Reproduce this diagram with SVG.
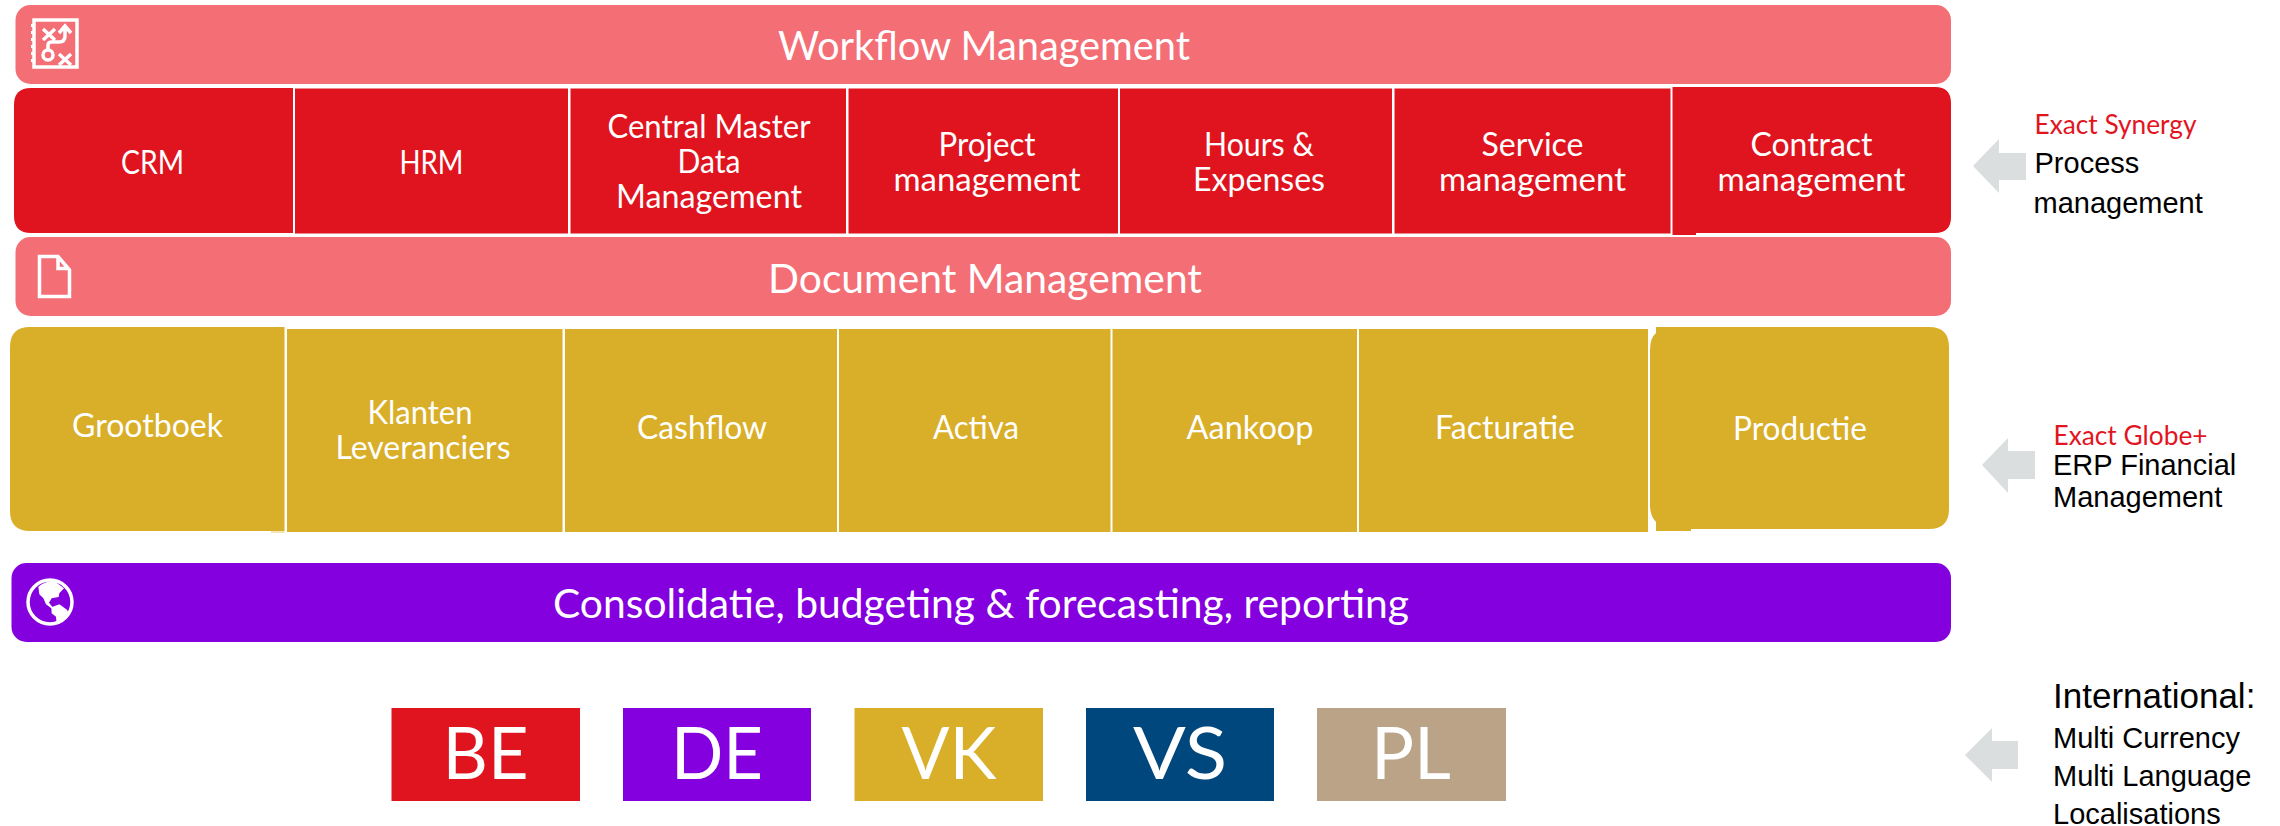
<svg xmlns="http://www.w3.org/2000/svg" width="2280" height="826" viewBox="0 0 2280 826">
<defs><style>
.w{font-family:"Lato","Noto Sans",sans-serif;fill:#fff;text-anchor:middle;font-size:32px}
.b{font-size:40px}
.c{font-size:72px}
.a{font-family:"Liberation Sans",Arial,sans-serif;fill:#000;font-size:29px}
.e{font-family:"Lato","Noto Sans",sans-serif;fill:#E2151F;font-size:26px}
.sal{fill:#F46E76}.red{fill:#E0141E}.gold{fill:#D9AE28}.pur{fill:#8400DE}.arrow{fill:#DADEDF}
.ic{fill:none;stroke:#fff;stroke-width:3.500}
</style></defs>
<rect width="2280" height="826" fill="#fff"/>
<g id="workflow"><rect class="sal" x="15.500" y="5" width="1935.500" height="79" rx="15"/>
<g class="ic"><rect x="34" y="20" width="43" height="47"/><path d="M43 29l12 11M55 29l-12 11M59 54l12 11M71 54l-12 11M48 49v-4q0-3 4-3h7q6 0 6-6v-9M59 33l6-7 6 7"/><circle cx="48" cy="55" r="5"/></g>
<path fill="#fff" d="M31 24h3v3h-3zM31 31h3v3h-3zM31 38h3v3h-3zM31 45h3v3h-3zM31 52h3v3h-3zM31 59h3v3h-3z"/>
<text class="w b" x="984" y="60" textLength="412" lengthAdjust="spacingAndGlyphs">Workflow Management</text></g>
<g id="crm"><path class="red" d="M293 88V233H31Q14 233 14 216V105Q14 88 31 88Z"/><text class="w" x="152.500" y="173.500" textLength="63" lengthAdjust="spacingAndGlyphs">CRM</text></g>
<g id="hrm"><rect class="red" x="295" y="88.500" width="273" height="145"/><text class="w" x="431.500" y="173.500" textLength="64" lengthAdjust="spacingAndGlyphs">HRM</text></g>
<g id="cmdm"><rect class="red" x="570.500" y="88.500" width="275.500" height="145"/><text class="w" x="709" y="137.500" textLength="203" lengthAdjust="spacingAndGlyphs">Central Master</text><text class="w" x="709" y="173" textLength="63" lengthAdjust="spacingAndGlyphs">Data</text><text class="w" x="709" y="208" textLength="186" lengthAdjust="spacingAndGlyphs">Management</text></g>
<g id="project"><rect class="red" x="848.500" y="88.500" width="269.500" height="145"/><text class="w" x="987" y="155.500" textLength="97" lengthAdjust="spacingAndGlyphs">Project</text><text class="w" x="987" y="190.500" textLength="187" lengthAdjust="spacingAndGlyphs">management</text></g>
<g id="hours"><rect class="red" x="1120" y="88.500" width="272" height="145"/><text class="w" x="1259" y="155.500" textLength="110" lengthAdjust="spacingAndGlyphs">Hours &amp;</text><text class="w" x="1259" y="190.500" textLength="132" lengthAdjust="spacingAndGlyphs">Expenses</text></g>
<g id="service"><rect class="red" x="1394.500" y="88.500" width="276" height="145"/><text class="w" x="1532.500" y="155.500" textLength="102" lengthAdjust="spacingAndGlyphs">Service</text><text class="w" x="1532.500" y="190.500" textLength="187" lengthAdjust="spacingAndGlyphs">management</text></g>
<g id="contract"><path class="red" d="M1672.500 87H1935Q1951 87 1951 103V217Q1951 233 1935 233H1696V235H1672.500Z"/><text class="w" x="1811.500" y="155.500" textLength="122" lengthAdjust="spacingAndGlyphs">Contract</text><text class="w" x="1811.500" y="190.500" textLength="188" lengthAdjust="spacingAndGlyphs">management</text></g>
<g id="document"><rect class="sal" x="15.500" y="237" width="1935.500" height="79" rx="15"/><path class="ic" d="M39.500 256.500H58L69.500 270V296.500H39.500ZM58 256.500V268.500H69.500"/><text class="w b" x="985" y="292.500" textLength="434" lengthAdjust="spacingAndGlyphs">Document Management</text></g>
<g id="grootboek"><path class="gold" d="M284.500 327V531H30Q10 531 10 511V347Q10 327 30 327Z"/><path fill="#F3E4B8" d="M271 531h13.500v2H271z"/><text class="w" x="147.500" y="436.500" textLength="151" lengthAdjust="spacingAndGlyphs">Grootboek</text></g>
<g id="klanten"><rect class="gold" x="287" y="329" width="275.500" height="203"/><text class="w" x="420" y="423.500" textLength="105" lengthAdjust="spacingAndGlyphs">Klanten</text><text class="w" x="423" y="458.500" textLength="175" lengthAdjust="spacingAndGlyphs">Leveranciers</text></g>
<g id="cashflow"><rect class="gold" x="565" y="329" width="272" height="203"/><text class="w" x="702" y="438.500" textLength="130" lengthAdjust="spacingAndGlyphs">Cashflow</text></g>
<g id="activa"><rect class="gold" x="839" y="329" width="271.500" height="203"/><text class="w" x="976" y="438.500" textLength="86" lengthAdjust="spacingAndGlyphs">Activa</text></g>
<g id="aankoop"><rect class="gold" x="1112.500" y="329" width="244.500" height="203"/><text class="w" x="1250" y="438.500" textLength="127" lengthAdjust="spacingAndGlyphs">Aankoop</text></g>
<g id="facturatie"><rect class="gold" x="1359" y="329" width="289" height="203"/><text class="w" x="1505" y="438.500" textLength="140" lengthAdjust="spacingAndGlyphs">Facturatie</text></g>
<g id="productie"><path class="gold" d="M1656 327H1929Q1949 327 1949 347V509Q1949 529 1929 529H1691V531H1656V522Q1650 516 1650 505V350Q1650 338 1656 333Z"/><text class="w" x="1800" y="439.500" textLength="134" lengthAdjust="spacingAndGlyphs">Productie</text></g>
<g id="consolidatie"><rect class="pur" x="11.500" y="563" width="1939.500" height="79" rx="15"/><circle class="ic" cx="50" cy="602" r="22"/>
<g transform="translate(10 565) scale(.3333)" fill="#fff"><path d="M85 65Q105 48 132 47L162 70L148 85L146 96L125 100L117 113L135 135L122 128L108 118L100 100L88 88Z"/><path d="M124 127L148 118L172 135L176 148L152 168L140 178L138 155L125 145Z"/></g>
<text class="w b" x="981" y="617.500" textLength="856" lengthAdjust="spacingAndGlyphs">Consolidatie, budgeting &amp; forecasting, reporting</text></g>
<g id="be"><rect class="red" x="391.500" y="708" width="188.500" height="93"/><text class="w c" x="485.500" y="779" textLength="86" lengthAdjust="spacingAndGlyphs">BE</text></g>
<g id="de"><rect class="pur" x="623" y="708" width="188" height="93"/><text class="w c" x="717" y="779" textLength="92" lengthAdjust="spacingAndGlyphs">DE</text></g>
<g id="vk"><rect class="gold" x="854.500" y="708" width="188.500" height="93"/><text class="w c" x="949" y="779" textLength="95" lengthAdjust="spacingAndGlyphs">VK</text></g>
<g id="vs"><rect fill="#00477D" x="1086" y="708" width="188" height="93"/><text class="w c" x="1180" y="779" textLength="94" lengthAdjust="spacingAndGlyphs">VS</text></g>
<g id="pl"><rect fill="#BAA387" x="1317" y="708" width="189" height="93"/><text class="w c" x="1411" y="779" textLength="80" lengthAdjust="spacingAndGlyphs">PL</text></g>
<g id="connectors"><path class="arrow" d="M1973 166L1999 139V153H2026V180H1999V193Z"/><path class="arrow" d="M1982 465L2008 438V451H2035V479H2008V493Z"/><path class="arrow" d="M1965 755L1992 728V741H2018V769H1992V782Z"/></g>
<g id="note-synergy"><text class="e" x="2034.500" y="134" textLength="162" lengthAdjust="spacingAndGlyphs">Exact Synergy</text><text class="a" x="2034.500" y="173">Process</text><text class="a" x="2033.500" y="213">management</text></g>
<g id="note-globe"><text class="e" x="2053.500" y="445" textLength="154" lengthAdjust="spacingAndGlyphs">Exact Globe+</text><text class="a" x="2053" y="475">ERP Financial</text><text class="a" x="2053" y="507">Management</text></g>
<g id="note-international"><text class="a" style="font-size:35px" x="2053" y="708">International:</text><text class="a" x="2053" y="748">Multi Currency</text><text class="a" x="2053" y="786">Multi Language</text><text class="a" x="2053" y="824">Localisations</text></g>
</svg>
